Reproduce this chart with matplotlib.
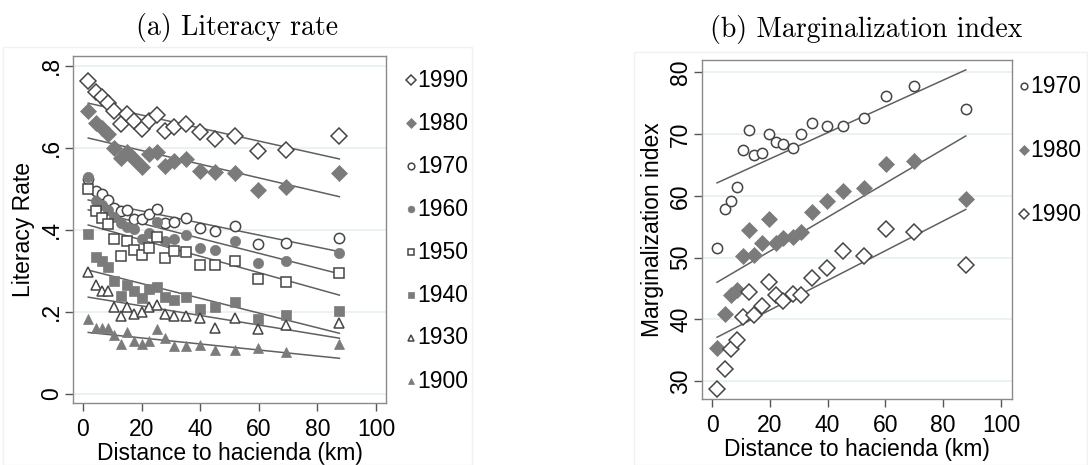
import matplotlib
matplotlib.use("Agg")
import matplotlib.pyplot as plt
from matplotlib.patches import Rectangle

plt.rcParams["font.family"] = ["Liberation Sans", "DejaVu Sans"]

# binned distance to hacienda (km)
DIST_A = [1.8, 4.5, 6.6, 8.6, 10.6, 13.0, 15.0, 17.4, 20.1, 22.4,
          25.1, 28.1, 31.2, 35.0, 39.9, 45.2, 51.9, 59.6, 69.3, 87.5]
DIST_B = [1.7, 4.3, 6.5, 8.5, 10.6, 12.7, 14.5, 17.1, 19.8, 22.1,
          24.7, 27.9, 30.9, 34.7, 39.8, 45.2, 52.4, 60.1, 70.0, 87.8]

# literacy rate by census year
LIT_1990 = [0.762, 0.737, 0.725, 0.710, 0.691, 0.659, 0.683, 0.666, 0.646, 0.666,
            0.680, 0.641, 0.652, 0.659, 0.639, 0.622, 0.629, 0.592, 0.595, 0.628]
LIT_1980 = [0.690, 0.660, 0.648, 0.635, 0.600, 0.575, 0.591, 0.572, 0.554, 0.585,
            0.591, 0.556, 0.567, 0.572, 0.544, 0.540, 0.538, 0.498, 0.504, 0.538]
LIT_1970 = [0.524, 0.494, 0.488, 0.473, 0.454, 0.445, 0.449, 0.426, 0.426, 0.439,
            0.452, 0.416, 0.420, 0.428, 0.404, 0.398, 0.410, 0.366, 0.369, 0.381]
LIT_1960 = [0.530, 0.470, 0.460, 0.448, 0.432, 0.416, 0.408, 0.402, 0.377, 0.392,
            0.420, 0.372, 0.378, 0.388, 0.357, 0.350, 0.372, 0.320, 0.324, 0.343]
LIT_1950 = [0.499, 0.446, 0.428, 0.414, 0.377, 0.337, 0.372, 0.351, 0.339, 0.357,
            0.382, 0.331, 0.349, 0.347, 0.315, 0.315, 0.324, 0.280, 0.272, 0.294]
LIT_1940 = [0.390, 0.335, 0.325, 0.309, 0.276, 0.240, 0.266, 0.252, 0.233, 0.255,
            0.260, 0.236, 0.229, 0.237, 0.208, 0.211, 0.224, 0.183, 0.193, 0.202]
LIT_1930 = [0.297, 0.266, 0.250, 0.252, 0.213, 0.191, 0.211, 0.195, 0.201, 0.213,
            0.216, 0.195, 0.191, 0.191, 0.185, 0.162, 0.186, 0.158, 0.168, 0.174]
LIT_1900 = [0.183, 0.162, 0.160, 0.162, 0.144, 0.122, 0.150, 0.130, 0.122, 0.130,
            0.158, 0.137, 0.118, 0.118, 0.120, 0.106, 0.106, 0.111, 0.102, 0.121]

# linear fit (value at first bin, value at last bin)
LIT_FIT = {
    "1990": (0.709, 0.573), "1980": (0.624, 0.481), "1970": (0.473, 0.347),
    "1960": (0.449, 0.293), "1950": (0.412, 0.241), "1940": (0.302, 0.148),
    "1930": (0.236, 0.136), "1900": (0.150, 0.087),
}

# marginalization index by year
MARG_1970 = [51.6, 57.9, 59.1, 61.5, 67.4, 70.6, 66.6, 66.9, 70.0, 68.8,
             68.4, 67.8, 70.0, 71.8, 71.3, 71.3, 72.6, 76.2, 77.8, 74.0]
MARG_1980 = [35.3, 40.8, 44.0, 44.8, 50.3, 54.5, 50.4, 52.3, 56.2, 52.4,
             53.1, 53.4, 54.2, 57.4, 59.2, 60.8, 61.3, 65.2, 65.6, 59.5]
MARG_1990 = [28.7, 32.0, 35.2, 36.7, 40.4, 44.4, 40.7, 42.2, 46.1, 43.9,
             43.0, 44.1, 43.9, 46.7, 48.3, 51.1, 50.3, 54.6, 54.1, 48.8]
MARG_FIT = {"1970": (62.1, 80.4), "1980": (46.0, 69.7), "1990": (37.1, 57.8)}

LIT_YEARS = ["1990", "1980", "1970", "1960", "1950", "1940", "1930", "1900"]
LIT_SERIES = [LIT_1990, LIT_1980, LIT_1970, LIT_1960, LIT_1950, LIT_1940, LIT_1930, LIT_1900]
MARG_YEARS = ["1970", "1980", "1990"]
MARG_SERIES = [MARG_1970, MARG_1980, MARG_1990]

OPEN_C = "#454545"
FILL_C = "#7b7b7b"
LINE_C = "#606060"
GRID_C = "#e8f0f2"
FRAME_C = "#8a8a8a"
FS = 16.5

STYLE = {
    "1990": dict(marker="D", ms=7.8, mfc="white", mec=OPEN_C, mew=1.1),
    "1980": dict(marker="D", ms=7.8, mfc=FILL_C, mec=FILL_C, mew=0.5),
    "1970": dict(marker="o", ms=7.4, mfc="white", mec=OPEN_C, mew=1.1),
    "1960": dict(marker="o", ms=7.4, mfc=FILL_C, mec=FILL_C, mew=0.5),
    "1950": dict(marker="s", ms=6.6, mfc="white", mec=OPEN_C, mew=1.1),
    "1940": dict(marker="s", ms=6.6, mfc=FILL_C, mec=FILL_C, mew=0.5),
    "1930": dict(marker="^", ms=7.6, mfc="white", mec=OPEN_C, mew=1.1),
    "1900": dict(marker="^", ms=7.6, mfc=FILL_C, mec=FILL_C, mew=0.5),
}


def style_axes(ax, yticks, ylabels):
    for s in ax.spines.values():
        s.set_color(FRAME_C)
        s.set_linewidth(1.0)
    ax.set_xticks([0, 20, 40, 60, 80, 100])
    ax.set_yticks(yticks)
    ax.set_yticklabels(ylabels)
    ax.tick_params(axis="both", length=5.5, width=1.0, color="#555555",
                   labelsize=FS, labelcolor="black")
    ax.tick_params(axis="x", pad=5.5)
    ax.tick_params(axis="y", pad=1.5)
    for lab in ax.get_yticklabels():
        lab.set_rotation(90)
        lab.set_va("center")
    for y in yticks:
        ax.axhline(y, color=GRID_C, lw=1.2, zorder=0)
    ax.set_xlabel("Distance to hacienda (km)", fontsize=FS, labelpad=0.5)


def draw_series(ax, dist, years, series, fits):
    for yr, vals in zip(years, series):
        ax.plot(dist, vals, ls="none", zorder=3, **STYLE[yr])
        y0, y1 = fits[yr]
        ax.plot([dist[0], dist[-1]], [y0, y1], color=LINE_C, lw=1.1, zorder=2)


def draw_key(ax, years, x, y_top, step):
    for i, yr in enumerate(years):
        st = dict(STYLE[yr])
        st["ms"] = st["ms"] * 0.65
        y = y_top - i * step
        ax.plot([x], [y], transform=ax.transAxes, clip_on=False, **st)
        ax.text(x + 0.02, y, yr, transform=ax.transAxes, fontsize=FS,
                ha="left", va="center")


fig = plt.figure(figsize=(10.88, 4.65), dpi=100)

# faint outer frames around each panel
fig.add_artist(Rectangle((3 / 1088, 0.0), 469 / 1088, 418 / 465, transform=fig.transFigure,
                         fill=False, ec="#f1f1f1", lw=1.0))
fig.add_artist(Rectangle((634 / 1088, 0.0), 453 / 1088, 413 / 465, transform=fig.transFigure,
                         fill=False, ec="#f1f1f1", lw=1.0))

# (a) literacy rate
ax1 = fig.add_axes([73 / 1088, 1 - 403 / 465, 313 / 1088, 347 / 465])
draw_series(ax1, DIST_A, LIT_YEARS, LIT_SERIES, LIT_FIT)
ax1.set_xlim(-3.4, 103.4)
ax1.set_ylim(-0.022, 0.824)
style_axes(ax1, [0, 0.2, 0.4, 0.6, 0.8], ["0", ".2", ".4", ".6", ".8"])
ax1.set_ylabel("Literacy Rate", fontsize=FS, labelpad=4)
draw_key(ax1, LIT_YEARS, 1.08, (403 - 80) / 347, 43 / 347)
fig.text(237 / 1088, 1 - 27 / 465, "(a) Literacy rate", family="cmr10",
         fontsize=20, ha="center", va="center")

# (b) marginalization index
ax2 = fig.add_axes([702 / 1088, 1 - 399 / 465, 310 / 1088, 339 / 465])
draw_series(ax2, DIST_B, MARG_YEARS, MARG_SERIES, MARG_FIT)
ax2.set_xlim(-3.5, 103.8)
ax2.set_ylim(27.1, 82.0)
style_axes(ax2, [30, 40, 50, 60, 70, 80], ["30", "40", "50", "60", "70", "80"])
ax2.set_ylabel("Marginalization index", fontsize=FS, labelpad=4)
draw_key(ax2, MARG_YEARS, 1.04, (399 - 86) / 339, 64 / 339)
fig.text(866 / 1088, 1 - 29 / 465, "(b) Marginalization index", family="cmr10",
         fontsize=20, ha="center", va="center")

fig.savefig("out.png", dpi=100)
